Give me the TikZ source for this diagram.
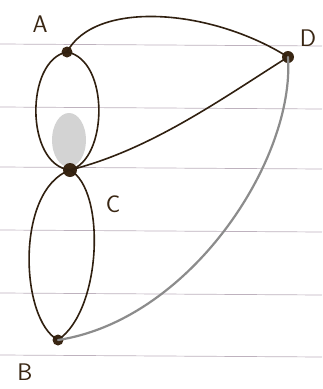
\documentclass[tikz,border=0pt]{standalone}
\usepackage{tikz}
\begin{document}
\begin{tikzpicture}[x=1pt,y=-1pt,
  pencil/.style={draw=black!75!brown, line width=1.6pt, line cap=round},
  lightpencil/.style={draw=black!45, line width=2.2pt, line cap=round},
  vertex/.style={circle, fill=black!70!brown, inner sep=0pt, minimum size=#1},
  lbl/.style={font=\sffamily\fontsize{24}{26}\selectfont, text=black!70!brown},
  ruled/.style={draw=violet!30!black!30, line width=0.7pt}]
\useasboundingbox[fill=white] (0,0) rectangle (322,389);
% ruled paper
\foreach \y in {44,107,167,230,293,355} \draw[ruled] (0,\y) -- (322,\y+2);
% shading
\fill[black!20, opacity=0.85] (69,140) ellipse [x radius=17, y radius=27];
% vertices
\node[vertex=11pt] (A) at (67,52) {};
\node[vertex=12pt] (D) at (288,57) {};
\node[vertex=14pt] (C) at (70,170) {};
\node[vertex=11pt] (B) at (58,340) {};
% labels
\node[lbl] (lA) at (40,24) {A};
\node[lbl] (lD) at (308,38) {D};
\node[lbl] (lC) at (113,204) {C};
\node[lbl] (lB) at (25,372) {B};
% edges
\draw[pencil] (A.center) .. controls (25,60) and (25,165) .. (C.center);
\draw[pencil] (A.center) .. controls (110,60) and (108,160) .. (C.center);
\draw[pencil] (C.center) .. controls (15,190) and (20,320) .. (B.center);
\draw[pencil] (C.center) .. controls (106,190) and (102,310) .. (B.center);
\draw[pencil] (A.center) .. controls (95,0) and (210,8) .. (D.center);
\draw[pencil] (C.center) .. controls (150,150) and (220,100) .. (D.center);
\draw[lightpencil] (B.center) .. controls (190,320) and (295,160) .. (D.center);
\end{tikzpicture}
\end{document}
